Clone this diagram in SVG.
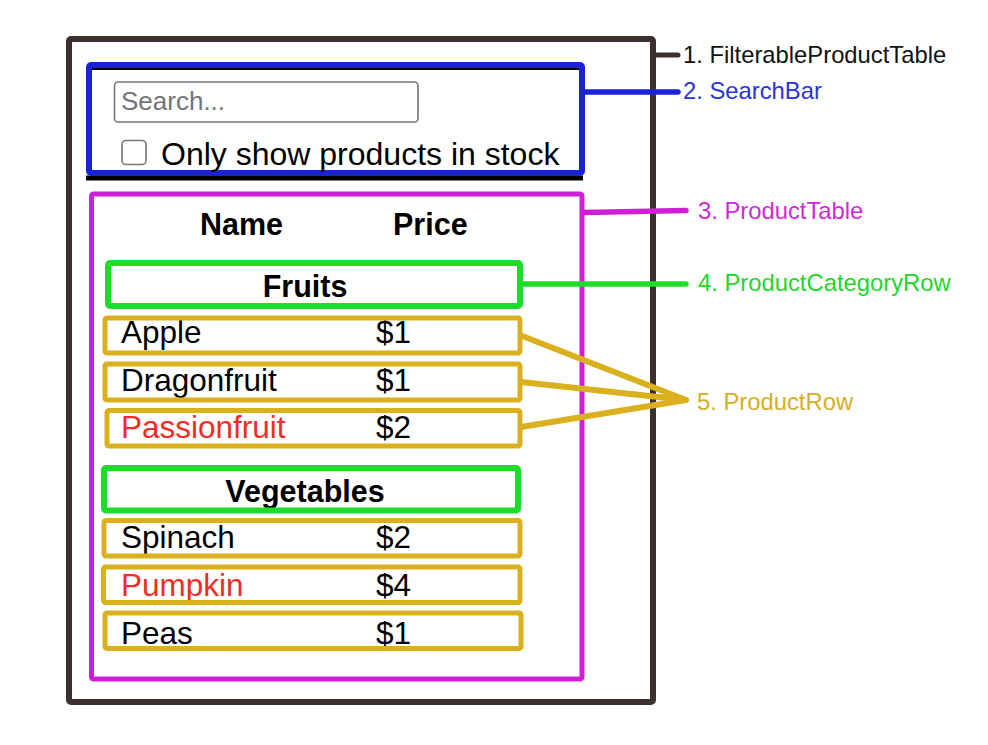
<svg xmlns="http://www.w3.org/2000/svg" width="988" height="745" viewBox="0 0 988 745">
<style>
  text { font-family: "Liberation Sans", Arial, Helvetica, sans-serif; }
  .box { fill: none; stroke-linejoin: round; }
  .frame { stroke: #3d302e; stroke-width: 6; }
  .blue { stroke: #1a22d9; stroke-width: 6; }
  .mag { stroke: #d01ed8; stroke-width: 5; }
  .green { stroke: #1ddd2a; stroke-width: 6; }
  .gold { stroke: #dbb01e; stroke-width: 5; }
  .row { font-size: 31.5px; fill: #000; }
  .red { fill: #ee2e24; }
  .head { font-size: 30.5px; font-weight: bold; fill: #000; }
  .lbl { font-size: 23.8px; }
  .conn { stroke-linecap: round; fill: none; }
</style>
<rect width="988" height="745" fill="#ffffff"/>

<g id="filterable-product-table">
  <rect class="box frame" x="69" y="39" width="584" height="663" rx="2"/>
  <text class="lbl" x="683" y="63" fill="#111111">1. FilterableProductTable</text>
</g>

<g id="search-bar">
  <line x1="86" y1="178" x2="583" y2="178" stroke="#000" stroke-width="5"/>
  <line x1="92" y1="69" x2="580" y2="69" stroke="#000" stroke-width="2"/>
  <rect class="box blue" x="89" y="65" width="493" height="108" rx="2"/>
  <rect x="114.5" y="82" width="303.5" height="40" rx="3.5" fill="#fff" stroke="#767676" stroke-width="1.6"/>
  <text x="121" y="110" font-size="26" fill="#757575">Search...</text>
  <rect x="122" y="140.5" width="24" height="24" rx="4" fill="#fff" stroke="#767676" stroke-width="1.6"/>
  <text x="161" y="165" font-size="32" fill="#000">Only show products in stock</text>
  <text class="lbl" x="683" y="99" fill="#2a35d8">2. SearchBar</text>
</g>

<g id="product-table">
  <rect class="box mag" x="91.5" y="194" width="490.5" height="485" rx="2"/>
  <text class="head" x="200" y="235">Name</text>
  <text class="head" x="393" y="235">Price</text>
  <text class="lbl" x="698" y="219" fill="#cc2ad6">3. ProductTable</text>
</g>

<g id="category-fruits">
  <text class="head" x="305" y="296.5" text-anchor="middle">Fruits</text>
  <rect class="box green" x="108" y="263" width="412" height="43" rx="2"/>
  <text class="lbl" x="698" y="291" fill="#1ed62c">4. ProductCategoryRow</text>
</g>

<g id="row-apple">
  <text class="row" x="121" y="343">Apple</text>
  <text class="row" x="376" y="343">$1</text>
  <rect class="box gold" x="105" y="318" width="415" height="35" rx="2"/>
</g>
<g id="row-dragonfruit">
  <text class="row" x="121" y="391">Dragonfruit</text>
  <text class="row" x="376" y="391">$1</text>
  <rect class="box gold" x="105" y="364" width="415" height="36" rx="2"/>
</g>
<g id="row-passionfruit">
  <text class="row red" x="121" y="438">Passionfruit</text>
  <text class="row" x="376" y="438">$2</text>
  <rect class="box gold" x="107" y="410.5" width="413" height="35.5" rx="2"/>
</g>

<g id="category-vegetables">
  <text class="head" x="305" y="502" text-anchor="middle">Vegetables</text>
  <rect class="box green" x="104" y="468" width="414" height="42.5" rx="2"/>
</g>

<g id="row-spinach">
  <text class="row" x="121" y="548">Spinach</text>
  <text class="row" x="376" y="548">$2</text>
  <rect class="box gold" x="104" y="520.5" width="416" height="35.5" rx="2"/>
</g>
<g id="row-pumpkin">
  <text class="row red" x="121" y="596">Pumpkin</text>
  <text class="row" x="376" y="596">$4</text>
  <rect class="box gold" x="103.5" y="567" width="416.5" height="35.5" rx="2"/>
</g>
<g id="row-peas">
  <text class="row" x="121" y="644">Peas</text>
  <text class="row" x="376" y="644">$1</text>
  <rect class="box gold" x="105" y="613" width="416" height="35.5" rx="2"/>
</g>

<g id="product-row-label">
  <text class="lbl" x="697" y="410" fill="#d9ad1f">5. ProductRow</text>
</g>

<g id="connectors">
  <line class="conn" x1="655" y1="55" x2="678" y2="55" stroke="#3d302e" stroke-width="5"/>
  <line class="conn" x1="584" y1="92" x2="678" y2="92" stroke="#1a22d9" stroke-width="5.5"/>
  <line class="conn" x1="584" y1="212.5" x2="686" y2="210.5" stroke="#d01ed8" stroke-width="5.5"/>
  <line class="conn" x1="521" y1="284" x2="686" y2="284" stroke="#1ddd2a" stroke-width="5.5"/>
  <g stroke="#dbb01e" stroke-width="6" stroke-linecap="round" stroke-linejoin="round" fill="none">
    <polyline points="521,335.5 686,400 521,427"/>
    <line x1="521" y1="382" x2="686" y2="400"/>
  </g>
</g>
</svg>
